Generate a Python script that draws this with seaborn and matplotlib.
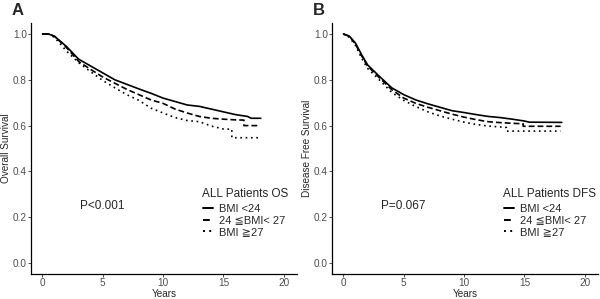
import pandas as pd
import matplotlib
matplotlib.use("Agg")
import matplotlib.pyplot as plt
from matplotlib.lines import Line2D
import seaborn as sns

# Kaplan-Meier curves (years, survival probability)
groups = ["BMI <24", "24 \u2266BMI< 27", "BMI \u226727"]

os_t_lo = [0, 0.5, 1, 2, 3, 4, 5, 6, 7, 8, 9, 10, 11, 12, 13, 14, 15, 16, 17, 17.3, 18.1]
os_s_lo = [1.0, 1.0, 0.99, 0.945, 0.89, 0.86, 0.83, 0.80, 0.78, 0.76, 0.741, 0.72, 0.705, 0.69,
           0.684, 0.672, 0.66, 0.648, 0.64, 0.632, 0.632]
os_t_mid = [0, 0.5, 1, 2, 3, 4, 5, 6, 7, 8, 9, 10, 11, 12, 13, 14, 15, 16, 16.7, 16.7, 18]
os_s_mid = [1.0, 1.0, 0.99, 0.94, 0.88, 0.845, 0.812, 0.785, 0.758, 0.735, 0.712, 0.697, 0.672,
            0.655, 0.64, 0.632, 0.628, 0.625, 0.624, 0.60, 0.60]
os_t_hi = [0, 0.5, 1, 2, 3, 4, 5, 6, 7, 8, 9, 10, 11, 12, 13, 14, 15, 15.7, 15.7, 18]
os_s_hi = [1.0, 1.0, 0.985, 0.925, 0.875, 0.835, 0.797, 0.765, 0.735, 0.71, 0.676, 0.655, 0.635,
           0.622, 0.617, 0.598, 0.585, 0.584, 0.547, 0.547]

dfs_t_lo = [0, 0.5, 1, 1.5, 2, 3, 4, 5, 6, 7, 8, 9, 10, 11, 12, 13, 14, 15, 15.4, 18.1]
dfs_s_lo = [1.0, 0.99, 0.96, 0.91, 0.865, 0.814, 0.765, 0.735, 0.712, 0.695, 0.68, 0.665, 0.657,
            0.648, 0.64, 0.635, 0.628, 0.62, 0.615, 0.614]
dfs_t_mid = [0, 0.5, 1, 1.5, 2, 3, 4, 5, 6, 7, 8, 9, 10, 11, 12, 13, 14, 14.9, 14.9, 18]
dfs_s_mid = [1.0, 0.99, 0.955, 0.905, 0.86, 0.808, 0.757, 0.72, 0.697, 0.68, 0.665, 0.65, 0.637,
             0.626, 0.617, 0.613, 0.61, 0.608, 0.597, 0.597]
dfs_t_hi = [0, 0.5, 1, 1.5, 2, 3, 4, 5, 6, 7, 8, 9, 10, 11, 12, 13, 13.5, 13.5, 18]
dfs_s_hi = [1.0, 0.985, 0.95, 0.895, 0.85, 0.798, 0.745, 0.71, 0.683, 0.66, 0.642, 0.628, 0.615,
            0.605, 0.598, 0.594, 0.592, 0.576, 0.576]

panels = [
    ("A", "Overall Survival", "ALL Patients OS", "P<0.001",
     [(os_t_lo, os_s_lo), (os_t_mid, os_s_mid), (os_t_hi, os_s_hi)]),
    ("B", "Disease Free Survival", "ALL Patients DFS", "P=0.067",
     [(dfs_t_lo, dfs_s_lo), (dfs_t_mid, dfs_s_mid), (dfs_t_hi, dfs_s_hi)]),
]

sns.set_theme(style="ticks")
plt.rcParams["font.family"] = ["Liberation Sans", "DejaVu Sans"]

dash_map = {groups[0]: "", groups[1]: (3.5, 1.8), groups[2]: (1, 2.2)}

fig = plt.figure(figsize=(6, 2.99), dpi=100)
lefts = [31 / 600, 332 / 600]

for (letter, ylab, leg_title, ptxt, series), left in zip(panels, lefts):
    ax = fig.add_axes([left, 25 / 299, 266 / 600, 251 / 299])
    rows = []
    for g, (t, s) in zip(groups, series):
        rows += [{"Years": a, "Survival": b, "Group": g} for a, b in zip(t, s)]
    df = pd.DataFrame(rows)
    sns.lineplot(data=df, x="Years", y="Survival", style="Group", style_order=groups,
                 dashes=dash_map, color="black", linewidth=1.2, estimator=None,
                 sort=False, legend=False, ax=ax)
    ax.set_xlim(-0.95, 21.1)
    ax.set_ylim(-0.048, 1.048)
    ax.set_xticks([0, 5, 10, 15, 20])
    ax.set_yticks([0.0, 0.2, 0.4, 0.6, 0.8, 1.0])
    ax.set_yticklabels(["0.0", "0.2", "0.4", "0.6", "0.8", "1.0"])
    ax.tick_params(labelsize=7.2, labelcolor="#4d4d4d", color="#333333",
                   length=2, width=0.6, pad=1)
    ax.set_xlabel("Years", fontsize=7.2, labelpad=0.5)
    ax.set_ylabel(ylab, fontsize=7.2, labelpad=1.5)
    sns.despine(ax=ax)
    for sp in ["left", "bottom"]:
        ax.spines[sp].set_linewidth(0.9)
        ax.spines[sp].set_color("black")

    ax.text(0.184, 0.271, ptxt, transform=ax.transAxes, fontsize=8.5, va="center")
    ax.text(0.643, 0.32, leg_title, transform=ax.transAxes, fontsize=8.5, va="center")

    handles = []
    for g in groups:
        if dash_map[g]:
            handles.append(Line2D([], [], color="black", linewidth=1.4, dashes=dash_map[g]))
        else:
            handles.append(Line2D([], [], color="black", linewidth=1.4, linestyle="-"))
    leg = ax.legend(handles, groups, loc="upper left",
                    bbox_to_anchor=(0.648, 0.278), frameon=False, fontsize=8,
                    handlelength=0.9, handletextpad=0.55,
                    labelspacing=0.12, borderpad=0, borderaxespad=0)
    for txt in leg.get_texts():
        txt.set_family(["Liberation Sans", "DejaVu Sans", "Noto Sans CJK SC"])

    fig.text(left - 19 / 600, 0.99, letter, fontsize=12, fontweight="bold", va="top")

fig.savefig("out.png", dpi=100)
